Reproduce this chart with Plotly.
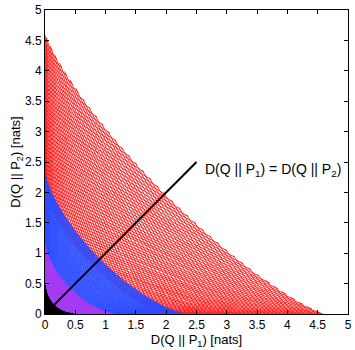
import numpy as np
import plotly.graph_objects as go

# ---- data ----
region_names = ["red", "blue", "magenta", "black"]
region_colors = ["#FF0000", "#2C4CFF", "#A43CF2", "#000000"]
# axis intercepts (nats) of the inner / outer boundary of each region's mesh
inner_intercepts = [2.05, 1.15, 0.48, 0.0]
outer_intercepts = [4.62, 2.33, 1.15, 0.48]
# boundary curves: axis intercept and curvature exponent (read from where they cross the diagonal)
boundary_scales = [0.48, 1.15, 2.33, 4.62]
boundary_exponents = [0.58, 0.68, 0.735, 0.82]
# spacing (nats) between neighbouring mesh lines of each family
mesh_steps = [0.065, 0.028, 0.012, 0.008]
line_widths = [0.8, 0.9, 1.2, 1.2]

equal_line_x = [0.15, 2.5]
equal_line_y = [0.15, 2.5]

tick_vals = [0, 0.5, 1, 1.5, 2, 2.5, 3, 3.5, 4, 4.5, 5]
tick_text = ["0", "0.5", "1", "1.5", "2", "2.5", "3", "3.5", "4", "4.5", "5"]

FONT = "Liberation Sans, Arial, sans-serif"
fig = go.Figure()

log_b = np.log(boundary_scales)
t = np.linspace(0, 1, 160)
for name, col, s_in, s_out, step, lw in zip(region_names, region_colors, inner_intercepts,
                                             outer_intercepts, mesh_steps, line_widths):
    k = s_out - s_in
    xs, ys = [], []
    starts = np.arange(s_in - k, s_out + step, step)
    for direction in (1, -1):
        for s0 in starts:
            s = s0 + direction * k * (t if direction == 1 else (t - 1))
            ok = (s >= s_in) & (s <= s_out) & (s > 0)
            if ok.sum() < 2:
                continue
            ss = np.where(ok, s, np.nan)
            q = np.interp(np.log(np.where(ok, s, 1.0)), log_b, boundary_exponents)
            x = ss * t ** (1 / q)
            y = ss * (1 - t) ** (1 / q)
            x = [None if np.isnan(v) else float(v) for v in x]
            y = [None if np.isnan(v) else float(v) for v in y]
            xs.extend(x + [None])
            ys.extend(y + [None])
    fig.add_trace(go.Scatter(x=xs, y=ys, mode="lines", line=dict(color=col, width=lw),
                             hoverinfo="skip", showlegend=False, name=name, connectgaps=False))

fig.add_trace(go.Scatter(x=equal_line_x, y=equal_line_y, mode="lines",
                         line=dict(color="black", width=2), showlegend=False, hoverinfo="skip"))

fig.add_annotation(x=2.6, y=2.37, xref="x", yref="y", xanchor="left", yanchor="middle",
                   text="D(Q || P<sub>1</sub>) = D(Q || P<sub>2</sub>)", showarrow=False,
                   font=dict(family=FONT, size=14, color="black"))

axis_common = dict(range=[0, 5], tickvals=tick_vals, ticktext=tick_text, ticks="inside", ticklen=4,
                   tickcolor="black", showgrid=False, zeroline=False, showline=True, linecolor="black",
                   linewidth=1, mirror="allticks", automargin=False,
                   tickfont=dict(family=FONT, size=12, color="black"))

fig.update_xaxes(**axis_common, title=dict(text="D(Q || P<sub>1</sub>) [nats]", standoff=0,
                 font=dict(family=FONT, size=13, color="black")))
fig.update_yaxes(**axis_common, title=dict(text="D(Q || P<sub>2</sub>) [nats]", standoff=0,
                 font=dict(family=FONT, size=13, color="black")))

fig.update_layout(width=355, height=350, margin=dict(l=45, r=7, t=10, b=36),
                  plot_bgcolor="white", paper_bgcolor="white")

fig.write_html("out.html", config={"displayModeBar": False},
               post_script="document.body.style.margin='0px';")
